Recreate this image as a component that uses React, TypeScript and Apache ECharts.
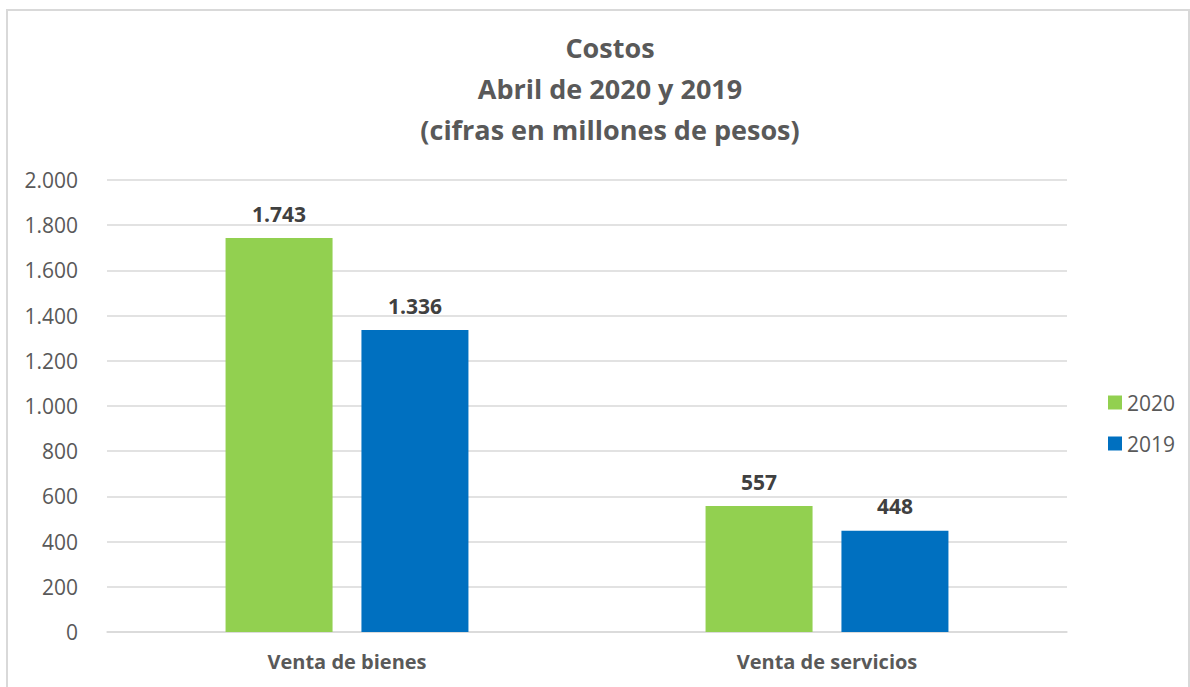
import React, { useEffect, useRef } from "react";
import * as echarts from "echarts";

const categories = ["Venta de bienes", "Venta de servicios"];
const series2020 = [1743, 557];
const series2019 = [1336, 448];
const titleLines = ["Costos", "Abril de 2020 y 2019", "(cifras en millones de pesos)"];

const fmt = (v: number) => {
  const s = Math.round(v).toString();
  return s.replace(/\B(?=(\d{3})+(?!\d))/g, ".");
};

export default function App() {
  const ref = useRef<HTMLDivElement>(null);
  useEffect(() => {
    const chart = echarts.init(ref.current!, undefined, { renderer: "svg" });
    const font = "'Open Sans', sans-serif";
    const labelStyle = {
      show: true,
      position: "top",
      distance: 14,
      fontFamily: font,
      fontSize: 21,
      fontWeight: "bold",
      color: "#404040",
      formatter: (p: any) => fmt(p.value),
    };
    chart.setOption({
      animation: false,
      textStyle: { fontFamily: font },
      graphic: [
        {
          type: "rect",
          shape: { x: 7, y: 10, width: 1182, height: 690 },
          style: { fill: "none", stroke: "#d9d9d9", lineWidth: 2 },
          silent: true,
        },
      ],
      title: {
        text: titleLines.join("\n"),
        left: 605,
        textAlign: "center",
        top: 22,
        textStyle: {
          fontFamily: font,
          fontSize: 27,
          fontWeight: "bold",
          color: "#595959",
          lineHeight: 41,
        },
      },
      legend: {
        orient: "vertical",
        left: 1103,
        top: 387,
        itemWidth: 14,
        itemHeight: 14,
        itemGap: 20,
        icon: "rect",
        textStyle: { fontFamily: font, fontSize: 21, color: "#595959" },
        data: ["2020", "2019"],
      },
      grid: { left: 107, right: 123, top: 180, bottom: 55 },
      xAxis: {
        type: "category",
        data: categories,
        axisLine: { lineStyle: { color: "#d9d9d9", width: 1.5 } },
        axisTick: { show: false },
        axisLabel: {
          fontFamily: font,
          fontSize: 20,
          fontWeight: "bold",
          color: "#595959",
          margin: 19,
        },
      },
      yAxis: {
        type: "value",
        min: 0,
        max: 2000,
        interval: 200,
        axisLine: { show: false },
        axisTick: { show: false },
        splitLine: { lineStyle: { color: "#d9d9d9", width: 1.5 } },
        axisLabel: {
          fontFamily: font,
          fontSize: 21,
          color: "#595959",
          margin: 29,
          formatter: (v: number) => fmt(v),
        },
      },
      series: [
        {
          name: "2020",
          type: "bar",
          data: series2020,
          barWidth: 107,
          barGap: "27%",
          itemStyle: { color: "#92D050" },
          label: labelStyle,
        },
        {
          name: "2019",
          type: "bar",
          data: series2019,
          barWidth: 107,
          barGap: "27%",
          itemStyle: { color: "#0070C0" },
          label: labelStyle,
        },
      ],
    });
    return () => chart.dispose();
  }, []);
  return (
    <div
      ref={ref}
      style={{ position: "fixed", left: 0, top: 0, width: 1190, height: 687, background: "#fff" }}
    />
  );
}
